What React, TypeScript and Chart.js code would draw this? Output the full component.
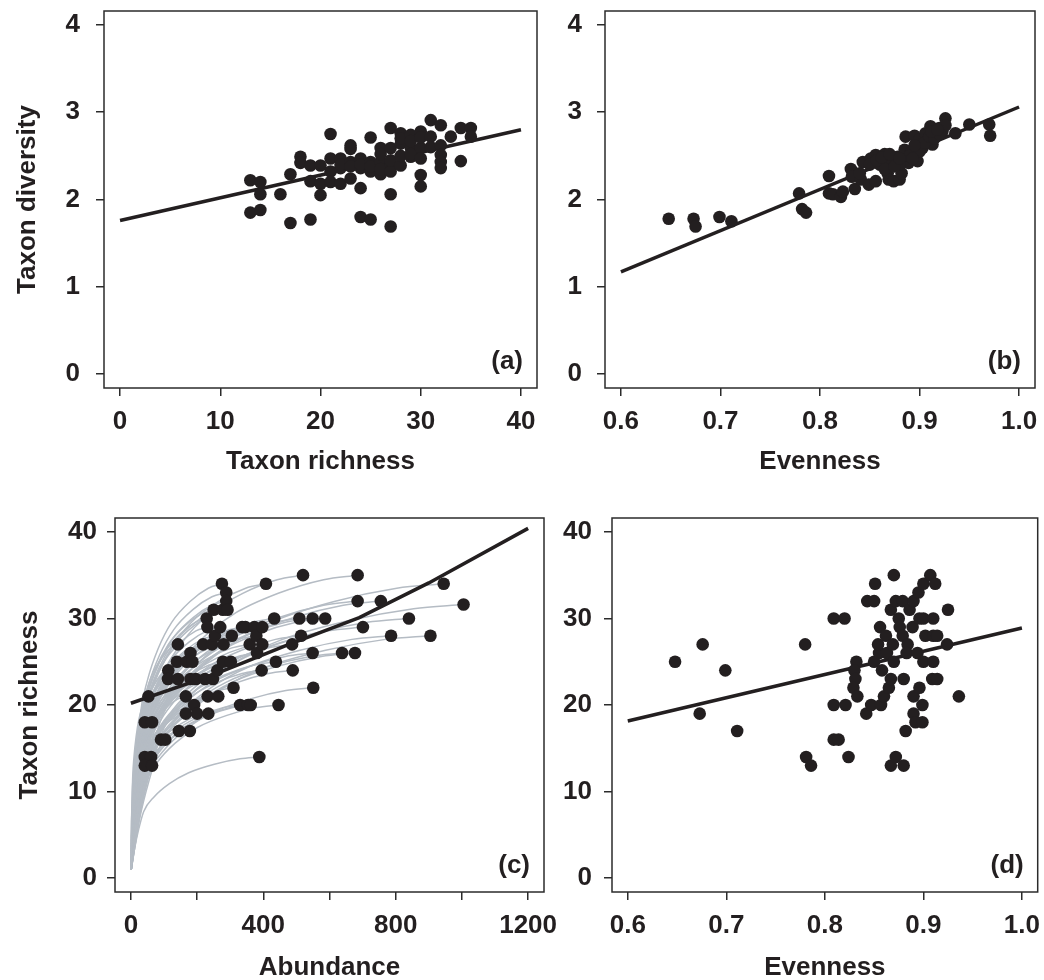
import React, { useEffect, useRef } from "react";
import { Chart, registerables } from "chart.js";
Chart.register(...registerables);

// ---------- Panel (a): Taxon richness vs Taxon diversity ----------
const A_RICHNESS = [13, 13, 14, 14, 14, 16, 17, 17, 18, 18, 19, 19, 19, 20, 20, 20, 21, 21, 21, 21, 22, 22, 22, 22, 23, 23, 23, 23, 23, 24, 24, 24, 24, 24, 25, 25, 25, 25, 25, 26, 26, 26, 26, 26, 27, 27, 27, 27, 27, 27, 27, 28, 28, 28, 28, 28, 29, 29, 29, 29, 29, 30, 30, 30, 30, 30, 30, 31, 31, 31, 32, 32, 32, 32, 32, 33, 34, 34, 35, 35];
const A_DIVERSITY = [2.22, 1.85, 2.20, 2.06, 1.88, 2.06, 2.29, 1.73, 2.49, 2.42, 2.39, 2.21, 1.77, 2.39, 2.18, 2.05, 2.75, 2.47, 2.32, 2.20, 2.47, 2.36, 2.18, 2.40, 2.62, 2.43, 2.24, 2.38, 2.58, 2.47, 2.36, 2.13, 1.80, 2.40, 2.71, 2.43, 2.32, 1.77, 2.38, 2.59, 2.43, 2.29, 2.52, 2.35, 2.82, 2.59, 2.41, 2.32, 2.06, 1.69, 2.45, 2.76, 2.64, 2.39, 2.50, 2.70, 2.74, 2.59, 2.49, 2.52, 2.67, 2.78, 2.59, 2.47, 2.28, 2.15, 2.71, 2.91, 2.72, 2.60, 2.85, 2.62, 2.51, 2.43, 2.36, 2.72, 2.82, 2.44, 2.82, 2.72];
const A_FIT_X = [0, 40];
const A_FIT_Y = [1.76, 2.80];
const A_X_TICKS = [0, 10, 20, 30, 40];
const A_Y_TICKS = [0, 1, 2, 3, 4];

// ---------- Panel (b): Evenness vs Taxon diversity ----------
const B_EVENNESS = [0.648, 0.673, 0.675, 0.699, 0.711, 0.779, 0.782, 0.786, 0.809, 0.809, 0.813, 0.821, 0.823, 0.831, 0.832, 0.835, 0.841, 0.843, 0.849, 0.851, 0.856, 0.856, 0.860, 0.865, 0.868, 0.869, 0.873, 0.874, 0.878, 0.880, 0.882, 0.885, 0.886, 0.889, 0.891, 0.895, 0.896, 0.898, 0.900, 0.903, 0.906, 0.909, 0.911, 0.913, 0.916, 0.920, 0.923, 0.926, 0.926, 0.936, 0.950, 0.970, 0.971, 0.860, 0.870, 0.880, 0.890, 0.900, 0.905, 0.910, 0.915, 0.920, 0.865, 0.875, 0.895, 0.840, 0.850, 0.857, 0.862, 0.870, 0.880, 0.893, 0.912, 0.918];
const B_DIVERSITY = [1.78, 1.78, 1.69, 1.80, 1.75, 2.07, 1.89, 1.85, 2.27, 2.07, 2.06, 2.03, 2.09, 2.35, 2.26, 2.12, 2.23, 2.43, 2.17, 2.47, 2.51, 2.21, 2.44, 2.52, 2.30, 2.23, 2.42, 2.21, 2.49, 2.23, 2.30, 2.57, 2.72, 2.42, 2.53, 2.73, 2.61, 2.44, 2.69, 2.59, 2.76, 2.69, 2.84, 2.63, 2.76, 2.82, 2.78, 2.93, 2.85, 2.76, 2.86, 2.86, 2.73, 2.40, 2.45, 2.40, 2.50, 2.55, 2.65, 2.72, 2.70, 2.75, 2.35, 2.38, 2.62, 2.30, 2.40, 2.45, 2.48, 2.52, 2.47, 2.47, 2.78, 2.80];
const B_FIT_X = [0.6, 1.0];
const B_FIT_Y = [1.17, 3.06];
const EVEN_X_TICKS = [0.6, 0.7, 0.8, 0.9, 1.0];
const B_Y_TICKS = [0, 1, 2, 3, 4];

// ---------- Panel (c): Abundance vs Taxon richness ----------
const C_ABUNDANCE = [53, 42, 64, 42, 61, 42, 64, 91, 104, 113, 112, 142, 139, 142, 145, 166, 166, 169, 180, 186, 180, 191, 196, 178, 200, 218, 224, 229, 231, 232, 234, 245, 248, 250, 254, 261, 264, 270, 275, 278, 280, 278, 288, 288, 292, 305, 302, 310, 330, 336, 346, 354, 362, 359, 373, 379, 381, 395, 397, 397, 388, 408, 433, 438, 446, 487, 489, 509, 514, 520, 549, 549, 551, 587, 638, 677, 685, 685, 701, 755, 786, 840, 905, 945, 1005];
const C_RICHNESS = [21, 18, 18, 14, 14, 13, 13, 16, 16, 24, 23, 27, 25, 23, 17, 21, 19, 25, 26, 25, 23, 20, 23, 17, 19, 27, 23, 30, 29, 21, 19, 27, 23, 31, 28, 24, 21, 29, 34, 31, 27, 25, 33, 32, 31, 28, 25, 22, 20, 29, 29, 20, 20, 27, 29, 28, 26, 24, 29, 27, 14, 34, 30, 25, 20, 27, 24, 30, 28, 35, 30, 26, 22, 30, 26, 26, 35, 32, 29, 32, 28, 30, 28, 34, 31.6];
const C_FIT_X = [0, 250, 470, 690, 900, 1200];
const C_FIT_Y = [20.2, 23.5, 26.9, 30.1, 34.1, 40.4];
// shape of the grey rarefaction curves, as fractions of each sample's end point
const C_CURVE_START_X = 1;
const C_CURVE_START_Y = 1;
const C_CURVE_FRAC_X = [0.03, 0.06, 0.1, 0.18, 0.3, 0.45, 0.65, 0.85, 1];
const C_CURVE_FRAC_Y = [0.25, 0.4, 0.55, 0.67, 0.78, 0.87, 0.94, 0.985, 1];
const C_X_TICKS = [0, 200, 400, 600, 800, 1000, 1200];
const C_X_LABELS = [0, 400, 800, 1200];
const RICH_Y_TICKS = [0, 10, 20, 30, 40];

// ---------- Panel (d): Evenness vs Taxon richness ----------
const D_EVENNESS = [0.648, 0.676, 0.673, 0.699, 0.711, 0.780, 0.781, 0.786, 0.809, 0.820, 0.809, 0.821, 0.809, 0.814, 0.824, 0.832, 0.830, 0.831, 0.829, 0.833, 0.842, 0.847, 0.843, 0.850, 0.851, 0.850, 0.855, 0.854, 0.856, 0.857, 0.858, 0.860, 0.862, 0.863, 0.865, 0.867, 0.867, 0.869, 0.870, 0.870, 0.867, 0.872, 0.872, 0.879, 0.875, 0.876, 0.879, 0.880, 0.880, 0.882, 0.884, 0.883, 0.886, 0.889, 0.890, 0.890, 0.890, 0.892, 0.894, 0.895, 0.896, 0.896, 0.899, 0.899, 0.900, 0.900, 0.900, 0.902, 0.907, 0.909, 0.910, 0.910, 0.910, 0.912, 0.914, 0.914, 0.924, 0.925, 0.936];
const D_RICHNESS = [25, 27, 19, 24, 17, 27, 14, 13, 30, 30, 20, 20, 16, 16, 14, 25, 24, 23, 22, 21, 19, 20, 32, 32, 34, 25, 26, 27, 29, 20, 24, 21, 28, 26, 22, 23, 31, 27, 35, 25, 13, 14, 32, 32, 30, 29, 28, 23, 13, 17, 27, 26, 31, 29, 32, 21, 19, 18, 26, 33, 30, 22, 20, 18, 30, 25, 34, 28, 35, 23, 25, 30, 28, 34, 23, 28, 27, 31, 21];
const D_FIT_X = [0.6, 1.0];
const D_FIT_Y = [18.15, 28.9];

// ---------- styling ----------
const INK = "#231f20";
const FRAME = "#2b2b2b";
const GREY_CURVE = "#b5bcc4";
const FONT_FAMILY = '"Liberation Sans", Arial, Helvetica, sans-serif';
const FONT = { family: FONT_FAMILY, size: 26, weight: "bold" as const };

const zip = (xs: number[], ys: number[]) => xs.map((x, i) => ({ x, y: ys[i] }));

const framePlugin = {
  id: "frame",
  afterDraw(chart: any, _args: any, opts: any) {
    const { ctx, chartArea: a } = chart;
    ctx.save();
    ctx.strokeStyle = FRAME;
    ctx.lineWidth = 1.5;
    ctx.strokeRect(a.left, a.top, a.right - a.left, a.bottom - a.top);
    ctx.fillStyle = INK;
    ctx.font = `bold 26px ${FONT_FAMILY}`;
    ctx.textAlign = "right";
    ctx.textBaseline = "middle";
    ctx.fillText(opts.letter, a.right - 14, a.bottom - 26);
    ctx.restore();
  },
};

type PanelSpec = {
  letter: string;
  datasets: any[];
  xMin: number;
  xMax: number;
  yMin: number;
  yMax: number;
  xTicks: number[];
  yTicks: number[];
  xLabel: (v: number) => string;
  yLabel: (v: number) => string;
  xTitle: string;
  yTitle?: string;
  yWidth: number;
  xHeight: number;
  padTop: number;
  padRight: number;
  xTitlePad: number;
  yTitlePad: number;
  yTickPad: number;
};

const zeroPadding = (s: any) => {
  s.paddingTop = 0;
  s.paddingBottom = 0;
  s.paddingLeft = 0;
  s.paddingRight = 0;
};

function buildConfig(p: PanelSpec): any {
  return {
    type: "scatter",
    data: { datasets: p.datasets },
    plugins: [framePlugin],
    options: {
      animation: false,
      responsive: false,
      maintainAspectRatio: false,
      devicePixelRatio: 1,
      events: [],
      layout: { padding: { left: 0, top: p.padTop, right: p.padRight, bottom: 0 } },
      plugins: {
        legend: { display: false },
        tooltip: { enabled: false },
        frame: { letter: p.letter },
      },
      scales: {
        x: {
          type: "linear",
          position: "bottom",
          min: p.xMin,
          max: p.xMax,
          afterBuildTicks: (s: any) => {
            s.ticks = p.xTicks.map((v) => ({ value: v }));
          },
          afterFit: (s: any) => {
            s.height = p.xHeight;
            zeroPadding(s);
          },
          ticks: {
            autoSkip: false,
            maxRotation: 0,
            minRotation: 0,
            padding: 10,
            color: INK,
            font: FONT,
            callback: (v: any) => p.xLabel(Number(v)),
          },
          grid: { drawOnChartArea: false, drawTicks: true, tickLength: 8, color: FRAME, lineWidth: 1.5 },
          border: { display: false },
          title: { display: true, text: p.xTitle, color: INK, font: FONT, padding: { top: 0, bottom: p.xTitlePad } },
        },
        y: {
          type: "linear",
          position: "left",
          min: p.yMin,
          max: p.yMax,
          afterBuildTicks: (s: any) => {
            s.ticks = p.yTicks.map((v) => ({ value: v }));
          },
          afterFit: (s: any) => {
            s.width = p.yWidth;
            zeroPadding(s);
          },
          ticks: {
            autoSkip: false,
            padding: p.yTickPad,
            color: INK,
            font: FONT,
            callback: (v: any) => p.yLabel(Number(v)),
          },
          grid: { drawOnChartArea: false, drawTicks: true, tickLength: 8, color: FRAME, lineWidth: 1.5 },
          border: { display: false },
          title: {
            display: !!p.yTitle,
            text: p.yTitle || "",
            color: INK,
            font: FONT,
            padding: { top: p.yTitlePad, bottom: 0 },
          },
        },
      },
    },
  };
}

const pointsDataset = (xs: number[], ys: number[]) => ({
  data: zip(xs, ys),
  pointRadius: 6.3,
  pointBackgroundColor: INK,
  pointBorderWidth: 0,
  showLine: false,
  order: 0,
});

const fitDataset = (xs: number[], ys: number[]) => ({
  data: zip(xs, ys),
  showLine: true,
  pointRadius: 0,
  borderColor: INK,
  borderWidth: 3.5,
  tension: 0,
  order: 1,
});

const curveDatasets = () =>
  C_ABUNDANCE.map((xe, i) => {
    const ye = C_RICHNESS[i];
    const pts = [{ x: C_CURVE_START_X, y: C_CURVE_START_Y }].concat(
      C_CURVE_FRAC_X.map((fx, k) => ({ x: fx * xe, y: C_CURVE_FRAC_Y[k] * ye }))
    );
    return {
      data: pts,
      showLine: true,
      pointRadius: 0,
      borderColor: GREY_CURVE,
      borderWidth: 1.5,
      cubicInterpolationMode: "monotone",
      order: 2,
    };
  });

const intLabel = (v: number) => String(v);
const evenLabel = (v: number) => v.toFixed(1);

const PANELS: { left: number; top: number; w: number; h: number; spec: () => PanelSpec }[] = [
  {
    left: 0,
    top: 0,
    w: 560,
    h: 490,
    spec: () => ({
      letter: "(a)",
      datasets: [pointsDataset(A_RICHNESS, A_DIVERSITY), fitDataset(A_FIT_X, A_FIT_Y)],
      xMin: -1.6,
      xMax: 41.6,
      yMin: -0.16,
      yMax: 4.16,
      xTicks: A_X_TICKS,
      yTicks: A_Y_TICKS,
      xLabel: intLabel,
      yLabel: intLabel,
      xTitle: "Taxon richness",
      yTitle: "Taxon diversity",
      yWidth: 104,
      xHeight: 102,
      padTop: 11,
      padRight: 23,
      xTitlePad: 13,
      yTitlePad: 12,
      yTickPad: 16,
    }),
  },
  {
    left: 560,
    top: 0,
    w: 484,
    h: 490,
    spec: () => ({
      letter: "(b)",
      datasets: [pointsDataset(B_EVENNESS, B_DIVERSITY), fitDataset(B_FIT_X, B_FIT_Y)],
      xMin: 0.584,
      xMax: 1.016,
      yMin: -0.16,
      yMax: 4.16,
      xTicks: EVEN_X_TICKS,
      yTicks: B_Y_TICKS,
      xLabel: evenLabel,
      yLabel: intLabel,
      xTitle: "Evenness",
      yWidth: 45,
      xHeight: 102,
      padTop: 11,
      padRight: 9,
      xTitlePad: 13,
      yTitlePad: 0,
      yTickPad: 15,
    }),
  },
  {
    left: 0,
    top: 490,
    w: 560,
    h: 490,
    spec: () => ({
      letter: "(c)",
      datasets: [pointsDataset(C_ABUNDANCE, C_RICHNESS), fitDataset(C_FIT_X, C_FIT_Y), ...curveDatasets()],
      xMin: -48,
      xMax: 1248,
      yMin: -1.6,
      yMax: 41.6,
      xTicks: C_X_TICKS,
      yTicks: RICH_Y_TICKS,
      xLabel: (v: number) => (C_X_LABELS.includes(v) ? String(v) : ""),
      yLabel: intLabel,
      xTitle: "Abundance",
      yTitle: "Taxon richness",
      yWidth: 115,
      xHeight: 88,
      padTop: 28,
      padRight: 16,
      xTitlePad: -3,
      yTitlePad: 14,
      yTickPad: 10,
    }),
  },
  {
    left: 560,
    top: 490,
    w: 484,
    h: 490,
    spec: () => ({
      letter: "(d)",
      datasets: [pointsDataset(D_EVENNESS, D_RICHNESS), fitDataset(D_FIT_X, D_FIT_Y)],
      xMin: 0.584,
      xMax: 1.016,
      yMin: -1.6,
      yMax: 41.6,
      xTicks: EVEN_X_TICKS,
      yTicks: RICH_Y_TICKS,
      xLabel: evenLabel,
      yLabel: intLabel,
      xTitle: "Evenness",
      yWidth: 52,
      xHeight: 88,
      padTop: 28,
      padRight: 3,
      xTitlePad: -3,
      yTitlePad: 0,
      yTickPad: 12,
    }),
  },
];

function Panel({ left, top, w, h, spec }: { left: number; top: number; w: number; h: number; spec: () => PanelSpec }) {
  const ref = useRef<HTMLCanvasElement | null>(null);
  useEffect(() => {
    if (!ref.current) return;
    const chart = new Chart(ref.current, buildConfig(spec()));
    return () => chart.destroy();
  }, []);
  return (
    <canvas
      ref={ref}
      width={w}
      height={h}
      style={{ position: "absolute", left, top, width: w, height: h }}
    />
  );
}

export default function App() {
  useEffect(() => {
    document.body.style.margin = "0";
    document.body.style.background = "#ffffff";
  }, []);
  return (
    <div style={{ position: "relative", width: 1044, height: 980, background: "#ffffff", overflow: "hidden" }}>
      {PANELS.map((p, i) => (
        <Panel key={i} {...p} />
      ))}
    </div>
  );
}
